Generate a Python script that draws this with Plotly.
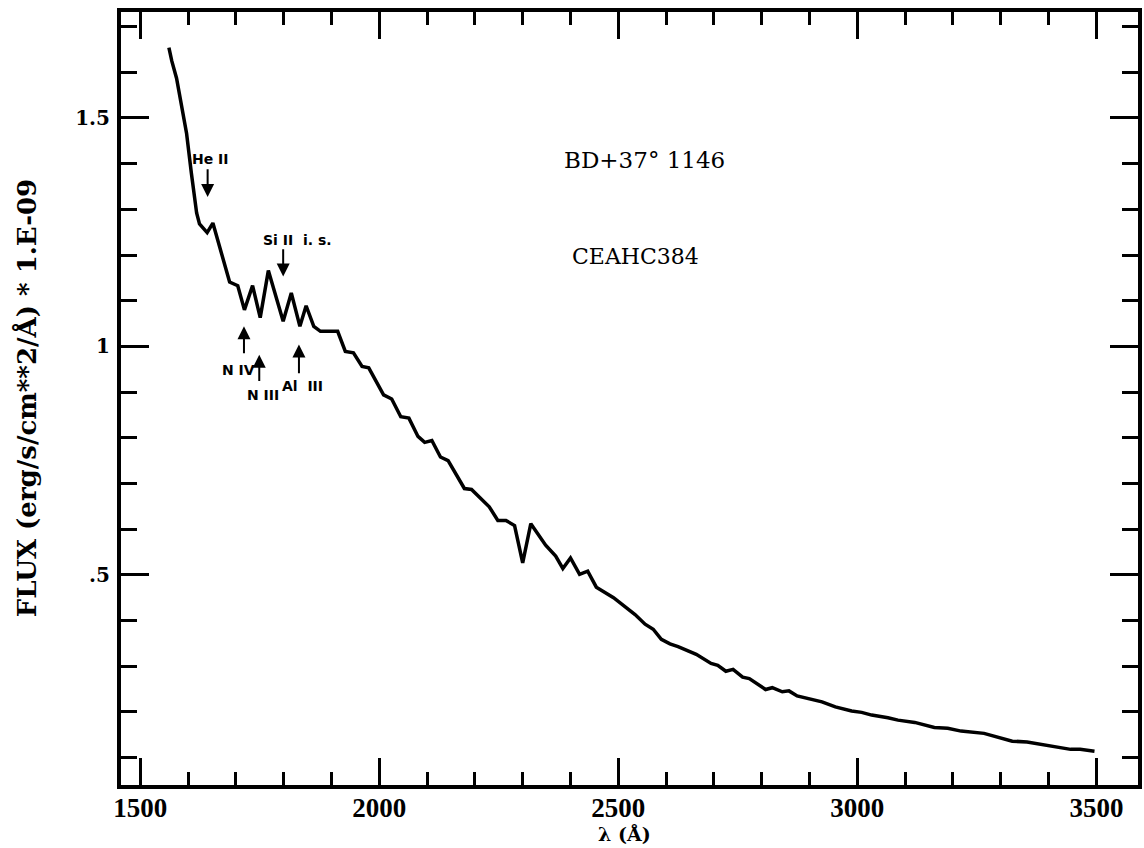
import plotly.graph_objects as go

# ---- data ----
wavelength = [1560, 1566, 1576, 1597, 1607, 1618, 1624, 1640, 1652, 1687, 1704, 1718, 1735,
              1751, 1768, 1799, 1816, 1834, 1847, 1863, 1877, 1913, 1929, 1946, 1964, 1978,
              2009, 2026, 2045, 2062, 2081, 2095, 2110, 2128, 2144, 2178, 2193, 2230, 2248,
              2265, 2283, 2300, 2317, 2348, 2369, 2384, 2400, 2419, 2436, 2454, 2490, 2535,
              2556, 2573, 2590, 2608, 2625, 2649, 2663, 2694, 2708, 2725, 2740, 2760, 2774,
              2808, 2822, 2843, 2857, 2874, 2891, 2926, 2954, 2988, 3009, 3030, 3064, 3085,
              3120, 3161, 3189, 3217, 3265, 3293, 3324, 3355, 3383, 3418, 3446, 3466, 3496]
flux = [1.654, 1.625, 1.587, 1.466, 1.379, 1.292, 1.268, 1.249, 1.270, 1.141, 1.133, 1.080, 1.133,
        1.063, 1.166, 1.055, 1.117, 1.044, 1.089, 1.044, 1.033, 1.033, 0.989, 0.986, 0.956, 0.953,
        0.894, 0.885, 0.846, 0.843, 0.803, 0.790, 0.794, 0.758, 0.750, 0.689, 0.687, 0.649, 0.619,
        0.619, 0.608, 0.526, 0.612, 0.565, 0.541, 0.514, 0.537, 0.501, 0.508, 0.473, 0.450, 0.413,
        0.392, 0.381, 0.359, 0.349, 0.343, 0.331, 0.326, 0.306, 0.302, 0.289, 0.293, 0.276, 0.273,
        0.249, 0.253, 0.244, 0.246, 0.235, 0.231, 0.222, 0.211, 0.202, 0.199, 0.193, 0.187, 0.182,
        0.177, 0.166, 0.164, 0.158, 0.153, 0.144, 0.136, 0.134, 0.129, 0.124, 0.118, 0.118, 0.114]

x_ticks = [1500, 2000, 2500, 3000, 3500]
y_ticks = [0.5, 1.0, 1.5]
y_tick_labels = [".5", "1", "1.5"]

# spectral line identifications: label, label position, arrow tail, arrow tip
line_names = ["He\u00a0II", "Si\u00a0II\u00a0\u00a0i.\u00a0s.", "N\u00a0IV", "N\u00a0III", "Al\u00a0\u00a0III"]
label_lambda = [1647, 1830, 1705, 1757, 1840]
label_flux = [1.410, 1.233, 0.949, 0.894, 0.914]
arrow_lambda = [1641, 1799, 1717, 1749, 1832]
arrow_tail = [1.391, 1.216, 0.982, 0.921, 0.938]
arrow_tip = [1.327, 1.153, 1.044, 0.982, 1.004]

star_name = "BD+37\u00b0 1146"
image_name = "CEAHC384"
star_pos = (2554, 1.408)
image_pos = (2536, 1.197)

fig = go.Figure()
fig.add_trace(go.Scatter(x=wavelength, y=flux, mode="lines",
                         line=dict(color="black", width=3.5), showlegend=False))

ann = []
for name, lx, ly, ax_, at, tp in zip(line_names, label_lambda, label_flux,
                                       arrow_lambda, arrow_tail, arrow_tip):
    ann.append(dict(x=lx, y=ly, xref="x", yref="y", text=name, showarrow=False,
                    font=dict(family="DejaVu Sans", size=14, color="black", weight="bold")))
    ann.append(dict(x=ax_, y=tp, ax=ax_, ay=at, xref="x", yref="y", axref="x", ayref="y",
                    text="", showarrow=True, arrowhead=2, arrowsize=1.3, arrowwidth=2,
                    arrowcolor="black"))

ann.append(dict(x=star_pos[0], y=star_pos[1], xref="x", yref="y", text=star_name,
                showarrow=False, font=dict(family="DejaVu Serif", size=23, color="black")))
ann.append(dict(x=image_pos[0], y=image_pos[1], xref="x", yref="y", text=image_name,
                showarrow=False, font=dict(family="DejaVu Serif", size=22, color="black")))
ann.append(dict(x=-0.093, y=0.501, xref="paper", yref="paper",
                text="FLUX (erg/s/cm**2/Å) * 1.E-09", textangle=-90, showarrow=False,
                xanchor="center", yanchor="middle",
                font=dict(family="DejaVu Serif", size=26, color="black", weight="bold")))
ann.append(dict(x=0.495, y=-0.0808, xref="paper", yref="paper", text="λ (Å)",
                showarrow=False, xanchor="center", yanchor="bottom",
                font=dict(family="DejaVu Serif", size=19, color="black", weight="bold")))

fig.update_layout(
    width=1144, height=848,
    margin=dict(l=121, r=2, t=12, b=63),
    paper_bgcolor="white", plot_bgcolor="white",
    annotations=ann,
    xaxis=dict(range=[1459.8, 3587], tickvals=x_ticks, ticks="inside", ticklen=27,
               tickwidth=3, tickcolor="black", showline=True, linewidth=4, linecolor="black",
               mirror="ticks", showgrid=False, zeroline=False, ticklabelstandoff=-4,
               tickfont=dict(family="Liberation Serif", size=27, color="black", weight="bold"),
               minor=dict(tickmode="linear", tick0=1500, dtick=100, ticks="inside",
                          ticklen=13, tickwidth=3, tickcolor="black", showgrid=False)),
    yaxis=dict(range=[0.04, 1.732], tickvals=y_ticks, ticktext=y_tick_labels, ticks="inside",
               ticklen=28, tickwidth=3, tickcolor="black", showline=True, linewidth=4,
               linecolor="black", mirror="ticks", showgrid=False, zeroline=False,
               ticklabelstandoff=3,
               tickfont=dict(family="DejaVu Serif", size=20, color="black", weight="bold"),
               minor=dict(tickmode="linear", tick0=0, dtick=0.1, ticks="inside",
                          ticklen=16, tickwidth=3, tickcolor="black", showgrid=False)),
)

fig.write_html("out.html")
